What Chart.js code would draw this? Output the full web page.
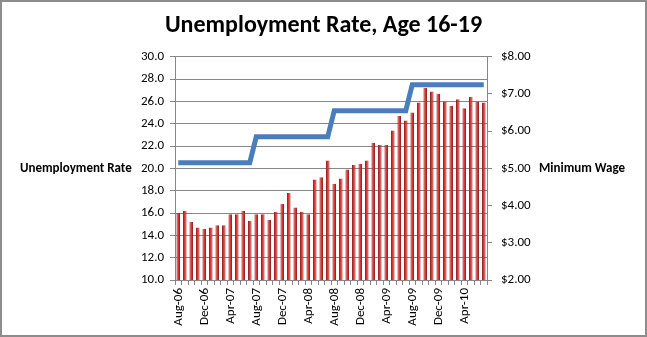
<!DOCTYPE html>
<html>
<head>
<meta charset="utf-8">
<script src="https://cdn.jsdelivr.net/npm/chart.js@4/dist/chart.umd.min.js"></script>
<style>
  html, body { margin: 0; padding: 0; background: #fff; }
  #wrap { width: 647px; height: 337px; }
</style>
</head>
<body>
<div id="wrap"><canvas id="myChart" width="647" height="337"></canvas></div>
<script>
// months Aug-06 .. Jul-10
var months = [
  "Aug-06","Sep-06","Oct-06","Nov-06","Dec-06","Jan-07","Feb-07","Mar-07",
  "Apr-07","May-07","Jun-07","Jul-07","Aug-07","Sep-07","Oct-07","Nov-07",
  "Dec-07","Jan-08","Feb-08","Mar-08","Apr-08","May-08","Jun-08","Jul-08",
  "Aug-08","Sep-08","Oct-08","Nov-08","Dec-08","Jan-09","Feb-09","Mar-09",
  "Apr-09","May-09","Jun-09","Jul-09","Aug-09","Sep-09","Oct-09","Nov-09",
  "Dec-09","Jan-10","Feb-10","Mar-10","Apr-10","May-10","Jun-10","Jul-10"
];

// teen unemployment rate (%)
var unemployment = [
  16.0, 16.2, 15.2, 14.7, 14.6, 14.7, 14.9, 14.9,
  15.9, 15.9, 16.2, 15.3, 15.9, 15.9, 15.4, 16.1,
  16.8, 17.8, 16.5, 16.1, 15.9, 19.0, 19.2, 20.7,
  18.6, 19.1, 19.9, 20.3, 20.4, 20.7, 22.3, 22.1,
  22.1, 23.4, 24.7, 24.3, 25.0, 25.9, 27.2, 26.9,
  26.7, 26.0, 25.6, 26.2, 25.4, 26.4, 26.0, 25.9
];

// federal minimum wage ($)
var minWage = [
  5.15, 5.15, 5.15, 5.15, 5.15, 5.15, 5.15, 5.15,
  5.15, 5.15, 5.15, 5.15, 5.85, 5.85, 5.85, 5.85,
  5.85, 5.85, 5.85, 5.85, 5.85, 5.85, 5.85, 5.85,
  6.55, 6.55, 6.55, 6.55, 6.55, 6.55, 6.55, 6.55,
  6.55, 6.55, 6.55, 6.55, 7.25, 7.25, 7.25, 7.25,
  7.25, 7.25, 7.25, 7.25, 7.25, 7.25, 7.25, 7.25
];

var chartTitle = "Unemployment Rate, Age 16-19";
var leftTitle = "Unemployment Rate";
var rightTitle = "Minimum Wage";

var fontFam = "Carlito, Calibri, Lato, sans-serif";
var gridGray = "#878787";

// horizontal axis titles + the outer frame, like the excel chart
var extras = {
  id: "extras",
  afterDraw: function (chart) {
    var c = chart.ctx;
    var a = chart.chartArea;
    var midY = (a.top + a.bottom) / 2;
    c.save();
    c.fillStyle = "#000";
    c.font = "bold 13px " + fontFam;
    c.textBaseline = "middle";
    c.textAlign = "left";
    c.fillText(leftTitle, 20, midY);
    c.fillText(rightTitle, 539, midY);
    c.strokeStyle = "#8c8c8c";
    c.lineWidth = 2;
    c.strokeRect(1, 1, chart.width - 2, chart.height - 2);
    c.restore();
  }
};

var ctx = document.getElementById("myChart");

new Chart(ctx, {
  type: "bar",
  data: {
    labels: months,
    datasets: [
      {
        type: "line",
        label: "Minimum Wage",
        data: minWage,
        yAxisID: "y1",
        borderColor: "#4a7ebb",
        borderWidth: 5,
        pointRadius: 0,
        fill: false,
        tension: 0,
        order: 0
      },
      {
        label: "Unemployment Rate",
        data: unemployment,
        yAxisID: "y",
        backgroundColor: "#d93434",
        borderColor: "#9c1c1c",
        borderWidth: { left: 1, right: 1, top: 0, bottom: 0 },
        barPercentage: 0.55,
        categoryPercentage: 1.0,
        order: 1
      }
    ]
  },
  options: {
    responsive: false,
    animation: false,
    layout: { padding: 0 },
    plugins: {
      legend: { display: false },
      tooltip: { enabled: false },
      title: {
        display: true,
        text: chartTitle,
        color: "#000",
        font: { family: fontFam, size: 24, weight: "bold" },
        padding: { top: 12, bottom: 16 }
      }
    },
    scales: {
      x: {
        offset: true,
        grid: {
          display: true,
          offset: true,
          drawOnChartArea: false,
          drawTicks: true,
          tickLength: 5,
          color: gridGray
        },
        border: { color: gridGray },
        ticks: {
          autoSkip: false,
          maxRotation: 90,
          minRotation: 90,
          padding: 3,
          color: "#000",
          font: { family: fontFam, size: 13 },
          callback: function (val, i) {
            return i % 4 === 0 ? months[i] : "";
          }
        },
        afterFit: function (s) { s.height = 57; }
      },
      y: {
        position: "left",
        min: 10,
        max: 30,
        grid: { color: gridGray, tickLength: 5 },
        border: { color: gridGray },
        ticks: {
          stepSize: 2,
          padding: 6,
          color: "#000",
          font: { family: fontFam, size: 13 },
          callback: function (v) { return v.toFixed(1); }
        },
        afterFit: function (s) { s.width = 175; }
      },
      y1: {
        position: "right",
        min: 2,
        max: 8,
        grid: { drawOnChartArea: false, color: gridGray, tickLength: 5 },
        border: { color: gridGray },
        ticks: {
          stepSize: 1,
          padding: 9,
          color: "#000",
          font: { family: fontFam, size: 13 },
          callback: function (v) { return "$" + v.toFixed(2); }
        },
        afterFit: function (s) { s.width = 160; }
      }
    }
  },
  plugins: [extras]
});
</script>
</body>
</html>
